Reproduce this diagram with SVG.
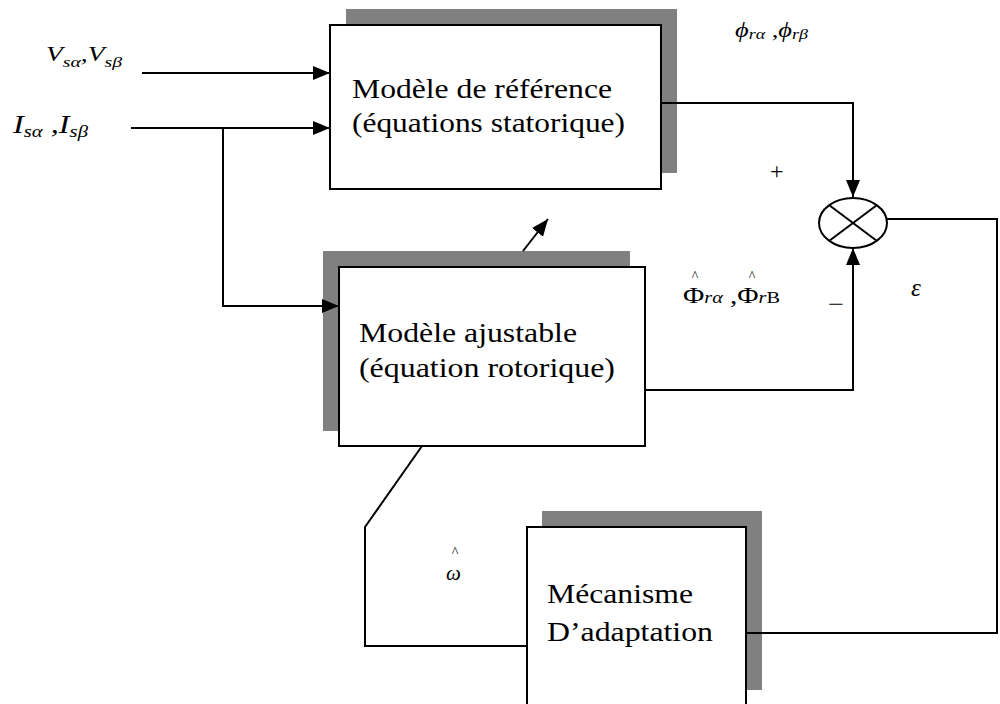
<svg xmlns="http://www.w3.org/2000/svg" width="1000" height="704" viewBox="0 0 1000 704">
<style>
.bx{fill:#fff;stroke:#000;stroke-width:2}
.sh{fill:#808080;stroke:none}
.ln{fill:none;stroke:#000;stroke-width:2}
.t{font-family:"Liberation Serif","Times New Roman",serif;font-size:27px;fill:#000}
.m{font-family:"Liberation Serif","Times New Roman",serif;font-style:italic;fill:#000}
.u{font-family:"Liberation Serif","Times New Roman",serif;fill:#000}
</style>
<defs>
<marker id="ah" markerUnits="userSpaceOnUse" markerWidth="18" markerHeight="14" refX="17" refY="7" orient="auto">
<path d="M0,0 L17,7 L0,14 Z" fill="#000"/>
</marker>
</defs>
<rect width="1000" height="704" fill="#fff"/>

<g id="ref-model">
<rect class="sh" x="346" y="9" width="331" height="164"/>
<rect class="bx" x="330" y="25" width="331" height="164"/>
<text class="t" x="352" y="98" textLength="260" lengthAdjust="spacingAndGlyphs">Modèle de référence</text>
<text class="t" x="352" y="132" textLength="273" lengthAdjust="spacingAndGlyphs">(équations statorique)</text>
</g>

<g id="adj-model">
<rect class="sh" x="323" y="251" width="307" height="180"/>
<rect class="bx" x="339" y="267" width="306" height="179"/>
<text class="t" x="359" y="342" textLength="218" lengthAdjust="spacingAndGlyphs">Modèle ajustable</text>
<text class="t" x="359" y="377" textLength="256" lengthAdjust="spacingAndGlyphs">(équation rotorique)</text>
</g>

<g id="adaptation">
<rect class="sh" x="542" y="511" width="220" height="179"/>
<rect class="bx" x="527" y="527" width="219" height="200"/>
<text class="t" x="547" y="603" textLength="146" lengthAdjust="spacingAndGlyphs">Mécanisme</text>
<text class="t" x="547" y="641" textLength="166" lengthAdjust="spacingAndGlyphs">D’adaptation</text>
</g>

<g id="sum">
<ellipse cx="853" cy="223" rx="34" ry="25" fill="#fff" stroke="#000" stroke-width="2"/>
<line class="ln" x1="829" y1="205" x2="877" y2="241"/>
<line class="ln" x1="877" y1="205" x2="829" y2="241"/>
</g>

<g id="connectors">
<line class="ln" x1="142" y1="73" x2="330" y2="73" marker-end="url(#ah)"/>
<line class="ln" x1="131" y1="128" x2="330" y2="128" marker-end="url(#ah)"/>
<polyline class="ln" points="223,128 223,306 339,306" marker-end="url(#ah)"/>
<polyline class="ln" points="661,103 853,103 853,197" marker-end="url(#ah)"/>
<polyline class="ln" points="645,390 853,390 853,248" marker-end="url(#ah)"/>
<line class="ln" x1="523" y1="251" x2="548" y2="219" marker-end="url(#ah)"/>
<polyline class="ln" points="887,219 997,219 997,633"/>
<line class="ln" x1="746" y1="633" x2="998" y2="633"/>
<polyline class="ln" points="422,446 365,527 365,646 527,646"/>
</g>

<g id="labels">
<text class="m" font-size="21" x="46" y="61" textLength="76" lengthAdjust="spacingAndGlyphs">V<tspan dy="6" font-size="15">sα</tspan><tspan dy="-6">,</tspan>V<tspan dy="6" font-size="15">sβ</tspan></text>
<text class="m" font-size="25" x="13" y="133" textLength="75" lengthAdjust="spacingAndGlyphs">I<tspan dy="4" font-size="16">sα</tspan><tspan dy="-4"> ,</tspan>I<tspan dy="4" font-size="16">sβ</tspan></text>
<text class="m" font-size="22" x="735" y="37" textLength="73" lengthAdjust="spacingAndGlyphs">ϕ<tspan dy="2" font-size="15">rα</tspan><tspan dy="-2"> ,</tspan>ϕ<tspan dy="2" font-size="15">rβ</tspan></text>
<text class="u" font-size="24" x="770" y="179">+</text>
<text class="u" font-size="23" x="683" y="303" textLength="97" lengthAdjust="spacingAndGlyphs">Φ<tspan font-size="16" font-style="italic">rα</tspan> ,Φ<tspan font-size="16" font-style="italic">r</tspan><tspan font-size="16">B</tspan></text>
<text class="u" font-size="14" x="695" y="281" text-anchor="middle">^</text>
<text class="u" font-size="14" x="752" y="281" text-anchor="middle">^</text>
<text class="u" font-size="24" x="828" y="312" textLength="16" lengthAdjust="spacingAndGlyphs">−</text>
<text class="m" font-size="25" x="911" y="296">ε</text>
<text class="m" font-size="21" x="446" y="580">ω</text>
<text class="u" font-size="14" x="455" y="557" text-anchor="middle">^</text>
</g>
</svg>
